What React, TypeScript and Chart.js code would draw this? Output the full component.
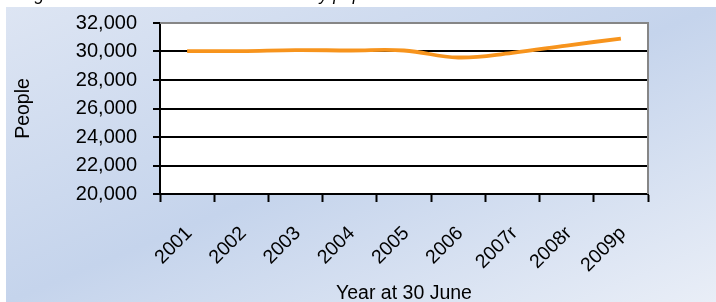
import React, { useEffect, useRef } from 'react';
import { Chart, registerables } from 'chart.js';

Chart.register(...registerables);

const categories = ['2001', '2002', '2003', '2004', '2005', '2006', '2007r', '2008r', '2009p'];
const people = [30030, 30030, 30100, 30070, 30070, 29580, 29910, 30420, 30910];
const yTicks = [20000, 22000, 24000, 26000, 28000, 30000, 32000];
const titleText = 'Figure 1: Estimated resident community population';
const yTitle = 'People';
const xTitle = 'Year at 30 June';

const FONT = '"Liberation Sans", Arial, sans-serif';
const W = 716;
const H = 302;

export default function App() {
  const ref = useRef<HTMLCanvasElement>(null);

  useEffect(() => {
    if (!ref.current) return;

    const bgPlugin = {
      id: 'bgPlugin',
      beforeDraw(chart: any) {
        const { ctx, chartArea: a } = chart;
        ctx.save();
        ctx.fillStyle = '#ffffff';
        ctx.fillRect(0, 0, W, H);
        // diagonal gradient panel
        const x0 = 6, y0 = 7, w = W - x0, h = H - y0;
        const cx = x0 + w / 2, cy = y0 + h / 2;
        const len = Math.sqrt(w * w + h * h);
        const ux = h / len, uy = w / len;
        const half = (w * h) / len;
        const g = ctx.createLinearGradient(cx - ux * half, cy - uy * half, cx + ux * half, cy + uy * half);
        g.addColorStop(0, '#dde5f3');
        g.addColorStop(0.5, '#c5d4ec');
        g.addColorStop(1, '#e9eef7');
        ctx.fillStyle = g;
        ctx.fillRect(x0, y0, w, h);
        // plot area
        ctx.fillStyle = '#ffffff';
        ctx.fillRect(a.left, a.top, a.right - a.left, a.bottom - a.top);
        // title (mostly above the visible area)
        ctx.fillStyle = '#000';
        ctx.font = `italic 17.5px ${FONT}`;
        ctx.textBaseline = 'alphabetic';
        ctx.textAlign = 'left';
        ctx.fillText(titleText, 20, 0);
        ctx.restore();
      },
      beforeDatasetsDraw(chart: any) {
        const { ctx, chartArea: a } = chart;
        ctx.save();
        ctx.strokeStyle = '#868686';
        ctx.lineWidth = 2;
        ctx.beginPath();
        ctx.moveTo(a.left, a.top);
        ctx.lineTo(a.right, a.top);
        ctx.lineTo(a.right, a.bottom);
        ctx.stroke();
        ctx.restore();
      },
    };

    const chart = new Chart(ref.current, {
      type: 'line',
      data: {
        labels: categories,
        datasets: [
          {
            data: people,
            borderColor: '#f7941d',
            borderWidth: 3.8,
            pointRadius: 0,
            tension: 0.4,
            fill: false,
          },
        ],
      },
      options: {
        responsive: false,
        animation: false,
        layout: { padding: { left: 0, right: 68, top: 23, bottom: 0 } },
        plugins: {
          legend: { display: false },
          tooltip: { enabled: false },
          title: { display: false },
        },
        scales: {
          x: {
            type: 'category',
            offset: true,
            grid: {
              offset: true,
              drawOnChartArea: false,
              drawTicks: true,
              tickLength: 8,
              tickColor: '#000',
              tickWidth: 2,
            },
            border: { display: true, color: '#000', width: 2 },
            ticks: {
              color: '#000',
              font: { family: FONT, size: 19.5 },
              maxRotation: 45,
              minRotation: 45,
              padding: 20,
              labelOffset: 2,
              autoSkip: false,
            },
            title: {
              display: true,
              text: xTitle,
              color: '#000',
              font: { family: FONT, size: 19.5 },
              padding: { top: 0, bottom: -3 },
            },
            afterFit(s: any) {
              s.height = 108;
              s.paddingLeft = 0;
              s.paddingRight = 0;
              s.paddingTop = 0;
              s.paddingBottom = 0;
            },
          },
          y: {
            min: 20000,
            max: 32000,
            afterBuildTicks(s: any) {
              s.ticks = yTicks.map((v) => ({ value: v }));
            },
            grid: {
              color: (c: any) => (c.tick && c.tick.value === 32000 ? '#868686' : '#000'),
              lineWidth: 2,
              tickLength: 7,
              tickColor: '#000',
              tickWidth: 2,
            },
            border: { display: true, color: '#000', width: 2 },
            ticks: {
              color: '#000',
              font: { family: FONT, size: 20 },
              padding: 16,
              callback: (v: any) => Number(v).toLocaleString('en-US'),
            },
            title: {
              display: true,
              text: yTitle,
              color: '#000',
              font: { family: FONT, size: 19.5 },
              padding: { top: 12, bottom: 0 },
            },
            afterFit(s: any) {
              s.width = 160;
              s.paddingLeft = 0;
              s.paddingRight = 0;
              s.paddingTop = 0;
              s.paddingBottom = 0;
            },
          },
        },
      },
      plugins: [bgPlugin],
    });

    return () => chart.destroy();
  }, []);

  return (
    <div style={{ position: 'absolute', left: 0, top: 0, width: W, height: H }}>
      <canvas ref={ref} width={W} height={H} style={{ width: W, height: H, display: 'block' }} />
    </div>
  );
}
